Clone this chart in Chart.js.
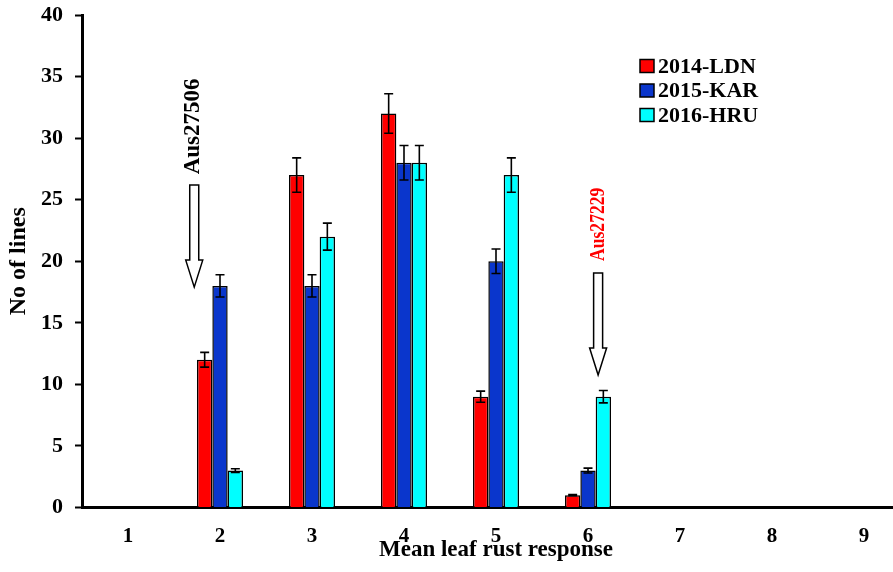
<!DOCTYPE html>
<html>
<head>
<meta charset="utf-8">
<script src="https://cdn.jsdelivr.net/npm/chart.js@4/dist/chart.umd.min.js"></script>
<style>
html,body{margin:0;padding:0;background:#fff;overflow:hidden;width:893px;height:572px;}
canvas{display:block;}
</style>
</head>
<body>
<canvas id="c" width="910" height="572" style="width:910px;height:572px"></canvas>
<script>
// ---- data ----
const categories = ['1','2','3','4','5','6','7','8','9'];
const seriesNames = ['2014-LDN','2015-KAR','2016-HRU'];
const ldn = [0,12,27,32,9,1,0,0,0];
const kar = [0,18,18,28,20,3,0,0,0];
const hru = [0,3,22,28,27,9,0,0,0];
const ldnErr = [0,0.6,1.4,1.6,0.45,0.05,0,0,0];
const karErr = [0,0.9,0.9,1.4,1.0,0.2,0,0,0];
const hruErr = [0,0.15,1.1,1.4,1.4,0.5,0,0,0];
const yTicks = [0,5,10,15,20,25,30,35,40];

// annotations (data coordinates: x = category index, y = value)
const arrowNotes = [
  {x:0.72, from:26.2, to:17.9},
  {x:5.11, from:19.05, to:10.76}
];
const textNotes = [
  {text:'Aus27506', x:0.71, y:30.95, color:'#000000', size:23, squeeze:1.0},
  {text:'Aus27229', x:5.11, y:23.0, color:'#FF0000', size:22, squeeze:0.8}
];

const colors = ['#FF0000','#0A36CC','#00FFFF'];
const FONT = "'Liberation Serif','Times New Roman',serif";

const errorBars = {
  id:'errorBars',
  afterDatasetsDraw(chart){
    const ctx = chart.ctx, ys = chart.scales.y;
    const errs = [ldnErr, karErr, hruErr];
    ctx.save();
    ctx.strokeStyle = '#000'; ctx.lineWidth = 1.6;
    chart.data.datasets.forEach((ds,i)=>{
      const meta = chart.getDatasetMeta(i);
      meta.data.forEach((el,j)=>{
        const e = errs[i][j], v = ds.data[j];
        if(!e) return;
        const x = el.x, yt = ys.getPixelForValue(v+e), yb = ys.getPixelForValue(v-e);
        ctx.beginPath();
        ctx.moveTo(x,yt); ctx.lineTo(x,yb);
        ctx.moveTo(x-4.5,yt); ctx.lineTo(x+4.5,yt);
        ctx.moveTo(x-4.5,yb); ctx.lineTo(x+4.5,yb);
        ctx.stroke();
      });
    });
    ctx.restore();
  }
};

const notes = {
  id:'notes',
  afterDraw(chart){
    const ctx = chart.ctx, xs = chart.scales.x, ys = chart.scales.y;
    ctx.save();
    arrowNotes.forEach(a=>{
      const x = xs.getPixelForValue(a.x), y0 = ys.getPixelForValue(a.from), y1 = ys.getPixelForValue(a.to);
      const hl = 27, hw = 8.5, sw = 4.5;
      ctx.beginPath();
      ctx.moveTo(x-sw,y0); ctx.lineTo(x+sw,y0); ctx.lineTo(x+sw,y1-hl); ctx.lineTo(x+hw,y1-hl);
      ctx.lineTo(x,y1); ctx.lineTo(x-hw,y1-hl); ctx.lineTo(x-sw,y1-hl); ctx.closePath();
      ctx.fillStyle='#fff'; ctx.fill();
      ctx.strokeStyle='#000'; ctx.lineWidth=1.5; ctx.stroke();
    });
    textNotes.forEach(t=>{
      const x = xs.getPixelForValue(t.x), y = ys.getPixelForValue(t.y);
      ctx.save();
      ctx.translate(x,y); ctx.rotate(-Math.PI/2); ctx.scale(t.squeeze,1);
      ctx.font = 'bold '+t.size+'px '+FONT;
      ctx.fillStyle = t.color; ctx.textAlign='center'; ctx.textBaseline='middle';
      ctx.fillText(t.text,0,0);
      ctx.restore();
    });
    // legend
    const lx = 640, rows = [66,90.5,115];
    ctx.font = 'bold 22px '+FONT;
    ctx.textBaseline='middle'; ctx.textAlign='left';
    chart.data.datasets.forEach((ds,i)=>{
      const cy = rows[i];
      ctx.fillStyle = ds.backgroundColor;
      ctx.fillRect(lx, cy-6.5, 14, 13);
      ctx.strokeStyle='#000'; ctx.lineWidth=1.5;
      ctx.strokeRect(lx, cy-6.5, 14, 13);
      ctx.fillStyle='#000';
      ctx.fillText(ds.label, lx+18, cy+1);
    });
    ctx.restore();
  }
};

new Chart(document.getElementById('c'), {
  type:'bar',
  data:{
    labels:categories,
    datasets:[
      {label:seriesNames[0], data:ldn, backgroundColor:colors[0]},
      {label:seriesNames[1], data:kar, backgroundColor:colors[1]},
      {label:seriesNames[2], data:hru, backgroundColor:colors[2]}
    ].map(d=>Object.assign(d,{borderColor:'#000',borderWidth:1.5,categoryPercentage:0.5,barPercentage:1.0}))
  },
  options:{
    responsive:false,
    animation:false,
    devicePixelRatio:1,
    layout:{padding:{top:15,right:0,bottom:0,left:0}},
    plugins:{legend:{display:false},tooltip:{enabled:false}},
    scales:{
      x:{
        grid:{display:false,drawTicks:false},
        border:{display:true,color:'#000',width:3},
        ticks:{color:'#000',padding:16,font:{family:FONT,size:21,weight:'bold'}},
        title:{display:true,text:'Mean leaf rust response',color:'#000',padding:{top:0,bottom:8},font:{family:FONT,size:23,weight:'bold'}},
        afterFit(s){ s.height = 64.5; s.paddingLeft = 0; s.paddingRight = 0; }
      },
      y:{
        min:0,max:40,
        afterBuildTicks(s){ s.ticks = yTicks.map(v=>({value:v})); },
        grid:{display:true,drawOnChartArea:false,drawTicks:true,tickLength:7,tickColor:'#000',tickWidth:2},
        border:{display:true,color:'#000',width:3},
        ticks:{color:'#000',padding:12,font:{family:FONT,size:22,weight:'bold'}},
        title:{display:true,text:'No of lines',color:'#000',padding:{top:4,bottom:0},font:{family:FONT,size:24,weight:'bold'}},
        afterFit(s){ s.width = 82; s.paddingTop = 0; s.paddingBottom = 0; }
      }
    }
  },
  plugins:[errorBars,notes]
});
</script>
</body>
</html>
